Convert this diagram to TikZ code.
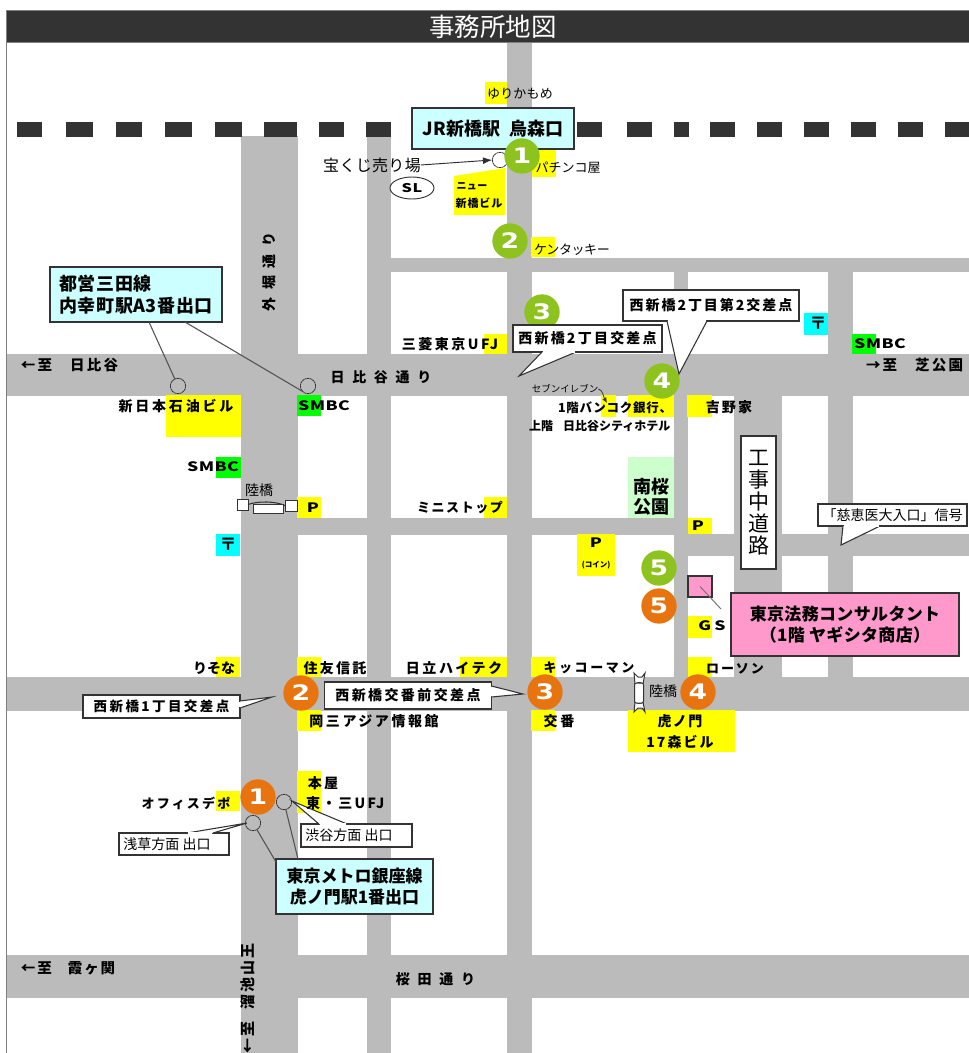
\documentclass[tikz,border=0pt]{standalone}
\usepackage{fontspec}
\usetikzlibrary{calc,arrows.meta,shapes.geometric}
\newfontfamily\jpf{Noto Sans CJK JP}
\newfontfamily\digf[FakeStretch=1.25]{DejaVu Sans}
\newcommand\rg[2]{\jpf\mdseries\fontsize{\fpeval{#1*0.75}}{\fpeval{#1*0.9}}\selectfont\addfontfeature{LetterSpace=#2}}
\newcommand\bd[2]{\jpf\bfseries\fontsize{\fpeval{#1*0.75}}{\fpeval{#1*0.9}}\selectfont\addfontfeature{LetterSpace=#2}}
\newcommand\bdw[2]{\jpf\bfseries\fontsize{\fpeval{#1*0.75}}{\fpeval{#1*0.9}}\selectfont\addfontfeature{LetterSpace=#2,FakeStretch=1.35}}
\newcommand\gapx[1]{\kern#1\dimexpr.75pt\relax}
\newcommand\bskip[1]{\setlength{\baselineskip}{#1pt}}
\definecolor{road}{HTML}{BBBBBB}
\definecolor{ink}{HTML}{333333}
\definecolor{ygreen}{HTML}{8DC21F}
\definecolor{orng}{HTML}{E8740F}
\definecolor{cyanbox}{HTML}{CCFFFF}
\definecolor{pinkbox}{HTML}{FF99CC}
\definecolor{parkg}{HTML}{CCFFCC}
\definecolor{markY}{HTML}{FFFF00}
\definecolor{markG}{HTML}{00FF00}
\definecolor{markC}{HTML}{00FFFF}
\tikzset{
 roadf/.style={fill=road},
 rail/.style={fill=ink},
 yb/.style={fill=markY},
 gb/.style={fill=markG},
 cb/.style={fill=markC},
 lab/.style={inner sep=0,outer sep=0,execute at begin node=\vphantom{国}},
 mlab/.style={inner sep=0,outer sep=0,align=center},
 sz/.style 2 args={minimum width=#1*0.75pt,minimum height=#2*0.75pt},
 bxs/.style={draw=ink,line width=0.9pt,fill=white,inner sep=0,outer sep=0},
 cyanb/.style={bxs,fill=cyanbox,align=center},
 pinkb/.style={bxs,fill=pinkbox,align=center},
 gcirc/.style={circle,fill=ygreen,inner sep=0,minimum size=26.5pt,text=white,font=\digf\bfseries\fontsize{16}{20}\selectfont},
 ocirc/.style={circle,fill=orng,inner sep=0,minimum size=26.5pt,text=white,font=\digf\bfseries\fontsize{16}{20}\selectfont},
 exitc/.style={circle,draw=ink,line width=0.6pt,dash pattern=on 1.6pt off 0.4pt,inner sep=0,minimum size=11.5pt,outer sep=0},
 ln/.style={draw=ink!85,line width=0.8pt},
 tailst/.style={draw=ink,line width=0.8pt,fill=white},
 bridge/.style={draw=ink,line width=0.75pt,fill=white,inner sep=0,outer sep=0},
}
\newcommand\tailp[3]{\draw[tailst] (#1) -- (#3) -- (#2);\draw[white,line width=1.4pt,shorten >=0.8pt,shorten <=0.8pt] (#1) -- (#2);}
\begin{document}
\begin{tikzpicture}[x=0.75pt,y=-0.75pt]
\useasboundingbox (0,0) rectangle (969,1053);
\fill[white] (0,0) rectangle (969,1053);
% roads
\fill[roadf] (241,136) rectangle (298,1053);
\fill[roadf] (367,136) rectangle (391,1053);
\fill[roadf] (507,42) rectangle (532,1053);
\fill[roadf] (674,258) rectangle (688,677);
\fill[roadf] (734,396) rectangle (782,677);
\fill[roadf] (828,258) rectangle (853,677);
\fill[roadf] (391,258) rectangle (969,272);
\fill[roadf] (7,354) rectangle (969,396);
\fill[roadf] (298,518) rectangle (674,535);
\fill[roadf] (674,534) rectangle (969,556);
\fill[roadf] (7,677) rectangle (969,711);
\fill[roadf] (7,955) rectangle (969,998);
% frame and header
\draw[gray,line width=0.8pt] (6.5,10.5) -- (6.5,1053);
\draw[gray,fill=ink,line width=0.6pt] (6.5,10.5) rectangle (970,42.5);
\node (title) [lab,text=white,font=\rg{25.5}{0}] at (493,27) {事務所地図};
% railway
\foreach \a/\b in {17/42,66/93,116/142,165/192,215/242,264/297,319/344,366/391,577/602,627/652,674/689,710/735,757/782,804/829,851/876,898/923,945/969}
  \fill[rail] (\a,122) rectangle (\b,137);
% yellow, green, cyan blocks
\fill[yb] (485,82) rectangle (507,104);
\fill[yb] (532,149) rectangle (556,177);
\fill[yb] (454,176) -- (505,168) -- (505,215) -- (454,215) -- cycle;
\fill[yb] (531,237) rectangle (555,257);
\fill[yb] (484,334) rectangle (507,354);
\fill[yb] (601,395) rectangle (616,417);
\fill[yb] (628,395) rectangle (674,417);
\fill[yb] (687,395) rectangle (712,417);
\fill[parkg] (628,457) rectangle (674,518);
\fill[cb] (804,313) rectangle (828,335);
\fill[gb] (852,334) rectangle (876,354);
\fill[yb] (166,395) rectangle (241,437);
\fill[gb] (297,395) rectangle (321,416);
\fill[gb] (216,457) rectangle (241,478);
\fill[yb] (297,497) rectangle (321,518);
\fill[cb] (216,534) rectangle (240,556);
\fill[yb] (484,497) rectangle (507,518);
\fill[yb] (688,518) rectangle (712,534);
\fill[yb] (577,534) rectangle (615,576);
\fill[yb] (688,616) rectangle (712,638);
\fill[yb] (688,657) rectangle (712,677);
\fill[yb] (628,710) rectangle (735,752);
\fill[yb] (531,657) rectangle (555,677);
\fill[yb] (531,710) rectangle (555,731);
\fill[yb] (297,710) rectangle (321,731);
\fill[yb] (297,657) rectangle (321,677);
\fill[yb] (460,657) rectangle (507,677);
\fill[yb] (216,657) rectangle (240,677);
\fill[yb] (297,771) rectangle (321,813);
\fill[yb] (216,791) rectangle (240,811);
% exit circles
\node (exJR) [exitc] at (500,160) {};
\node (exA) [exitc] at (178,386) {};
\node (exB) [exitc] at (308,386) {};
\node (exC) [exitc] at (253,823) {};
\node (exD) [exitc] at (284,802) {};
% green numbers
\node (g2) [gcirc] at (510,241) {2};
\node (g3) [gcirc] at (542,312) {3};
\node (g4) [gcirc] at (662,381) {4};
\node (g5) [gcirc] at (659,568) {5};
% orange numbers
\node (o1) [ocirc] at (258,797) {1};
\node (o2) [ocirc] at (301,693) {2};
\node (o3) [ocirc] at (545,692) {3};
\node (o4) [ocirc] at (698,692) {4};
\node (o5) [ocirc] at (659,606) {5};
% station boxes
\node (jr) [cyanb,sz={162}{41},font=\bd{18}{0}] at (493,128.5) {JR新橋駅\gapx{9}烏森口};
\node (g1) [gcirc] at (522,156) {1};
\node (toei) [cyanb,sz={172}{55},align=left,font=\bd{18}{3}] at (136,294.5) {都営三田線\\内幸町駅A3番出口};
\node (metro) [cyanb,sz={157}{55},font=\bd{17}{0}] at (354.5,886.5) {東京メトロ銀座線\\虎ノ門駅1番出口};
\draw[ln] ($(toei.south west)+(99,0)$) -- (exA);
\draw[ln] ($(toei.south west)+(135,0)$) -- (exB.south west);
\draw[ln] ($(metro.north west)+(0,3)$) -- (exC);
\draw[ln] ($(metro.north west)+(22,0)$) -- (exD);
% lottery
\node (lot) [lab,font=\rg{16}{2}] at (372,165) {宝くじ売り場};
\draw[ink!90!black,line width=0.7pt,-{Latex[length=7pt,width=5pt]}] (lot.east) -- (exJR.west);
% callouts
\node (cb3) [bxs,sz={149}{27},font=\bd{14}{16}] at (587.5,338.5) {西新橋2丁目交差点};
\coordinate (tp3) at (519,376);
\tailp{$(cb3.south west)+(29,0)$}{$(cb3.south west)+(63,0)$}{tp3}
\node (cb4) [bxs,sz={176}{31},font=\bd{14}{14}] at (711,305.5) {西新橋2丁目第2交差点};
\coordinate (tp4) at (679,374);
\tailp{$(cb4.south west)+(44,0)$}{$(cb4.south west)+(84,0)$}{tp4}
\node (cbj) [bxs,sz={149}{22},font=\rg{14}{0}] at (892.5,515) {「慈恵医大入口」信号};
\coordinate (tpj) at (841,545);
\tailp{$(cbj.south west)+(25,0)$}{$(cbj.south west)+(62,0)$}{tpj}
\node (cb1) [bxs,sz={157}{23},font=\bd{13.5}{18}] at (161.5,706.5) {西新橋1丁目交差点};
\coordinate (tp1) at (272,697);
\tailp{$(cb1.north east)+(0,6)$}{$(cb1.north east)+(0,13)$}{tp1}
\node (cbb) [bxs,sz={167}{27},font=\bd{14}{17}] at (408,695.5) {西新橋交番前交差点};
\coordinate (tpb) at (523,694);
\tailp{$(cbb.north east)+(0,4)$}{$(cbb.north east)+(0,15)$}{tpb}
\node (cba) [bxs,sz={110}{22},font=\rg{14}{0}] at (174,844) {浅草方面 出口\gapx{14}};
\coordinate (tpa) at (247,823);
\tailp{$(cba.north west)+(68,0)$}{$(cba.north west)+(94,0)$}{tpa}
\node (cbs) [bxs,sz={111}{23},font=\rg{14}{0}] at (356.5,835.5) {渋谷方面 出口\gapx{15}};
\coordinate (tps) at (292,801);
\tailp{$(cbs.north west)+(18,0)$}{$(cbs.north west)+(46,0)$}{tps}
% destination box
\node (koji) [bxs,sz={35}{133},align=center,font={\rg{21}{0}\bskip{16.5}}] at (758.5,502.5) {工\\事\\中\\道\\路};
\node (office) [pinkb,draw=ink,sz={24}{21}] at (700,586.5) {};
\coordinate (officeEnd) at (721,609);
\draw[ink!70,line width=0.7pt] (office.center) -- (officeEnd);
\node (dest) [pinkb,sz={228}{63},font=\bd{17}{2}] at (845,624.5) {東京法務コンサルタント\\（1階 ヤギシタ商店）};
% SL
\node (sl) [ellipse,draw=ink,line width=0.7pt,fill=white,inner sep=0,sz={44}{22},font=\bdw{12}{6}] at (412,188) {SL};
% labels
\node (l01) [lab,font=\rg{13}{1}] at (520,94) {ゆりかもめ};
\node (l02) [lab,font=\rg{13}{0}] at (568,168) {パチンコ屋};
\node (l03) [lab,font=\bd{10}{4}] at (472,186) {ニュー};
\node (l04) [lab,font=\bd{11}{8}] at (479,203) {新橋ビル};
\node (l05) [lab,font=\rg{13}{-3}] at (572,250) {ケンタッキー};
\node (l06) [lab,font=\bd{14}{18}] at (450,344) {三菱東京UFJ};
\node (l07) [lab,font=\bd{14}{55}] at (381,377) {日比谷通り};
\node (l08) [lab,rotate=90,font=\bd{14}{55}] at (269,272) {外堀通り};
\node (l09) [lab,font=\bd{14}{20}] at (176,406) {新日本石油ビル};
\node (l10) [lab,font=\bdw{13}{3}] at (324,406) {SMBC};
\node (l11) [lab,font=\bdw{13}{3}] at (213,467) {SMBC};
\node (l12) [lab,font=\bdw{13}{3}] at (880,344) {SMBC};
\node (l13) [lab,anchor=west,font=\bd{14.5}{15}] at (21,365) {←至\gapx{18}日比谷};
\node (l14) [lab,anchor=west,font=\bd{14.5}{15}] at (866,365) {→至\gapx{18}芝公園};
\node (l15) [lab,anchor=west,font=\bd{14.5}{13}] at (21,968) {←至\gapx{16}霞ヶ関};
\node (l16) [lab,font=\bd{14}{55}] at (435.5,979) {桜田通り};
\node (l17) [lab,anchor=west,rotate=90,font=\bd{15}{12}] at (248,1053) {←至\gapx{12}溜池山王};
\node (l18) [lab,font=\rg{9.5}{0}] at (565,389) {セブンイレブン};
\coordinate (s711) at (607,403);
\draw[ink,line width=0.6pt,-{Latex[length=4pt,width=3.5pt]}] (l18.east) .. controls (603,390) and (603,396) .. (s711);
\node (l19) [lab,anchor=west,font=\bd{12.5}{6}] at (558,408) {1階バンコク銀行、};
\node (l20) [lab,anchor=west,font=\bd{12}{0}] at (529,426) {上階\gapx{10}日比谷シティホテル};
\node (l21) [lab,font=\bd{14}{16}] at (729,407) {吉野家};
\node (l22) [mlab,font={\bd{18}{0}\bskip{15}}] at (651,497) {南桜\\公園};
\node (l23) [lab,font=\bd{13}{12}] at (460,508) {ミニストップ};
\node (l24) [lab,font=\bdw{13}{0}] at (313,508) {P};
\node (l25) [lab,font=\bdw{13}{0}] at (698,526) {P};
\node (l26) [lab,font=\bdw{13}{0}] at (596,543) {P};
\node (l27) [lab,font=\bd{7.5}{0}] at (596,565) {(コイン)};
\node (l28) [lab,font=\bd{17}{0}] at (228,544) {〒};
\node (l29) [lab,font=\bd{17}{0}] at (818,323) {〒};
\node (l30) [lab,font=\bdw{13}{25}] at (712,626) {GS};
\node (l31) [lab,font=\bd{13}{15}] at (735,669) {ローソン};
\node (l32) [lab,font=\bd{13}{20}] at (589,668) {キッコーマン};
\node (l33) [lab,font=\bd{14}{20}] at (559,721) {交番};
\node (l34) [lab,font=\bd{14}{18}] at (374,721) {岡三アジア情報館};
\node (l35) [lab,font=\bd{14}{16}] at (335,668) {住友信託};
\node (l36) [lab,font=\bd{14}{18}] at (454,668) {日立ハイテク};
\node (l37) [lab,font=\bd{14}{0}] at (214,668) {りそな};
\node (l38) [lab,font=\bd{14}{16}] at (323,783) {本屋};
\node (l39) [lab,anchor=west,font=\bd{14}{16}] at (306,803) {東・三UFJ};
\node (l40) [lab,font=\bd{13}{17}] at (186,803) {オフィスデポ};
\node (l41) [lab,font=\bd{14}{10}] at (680,721) {虎ノ門};
\node (l42) [lab,font=\bd{14}{15}] at (680,742) {17森ビル};
\node (l43) [lab,font=\rg{14}{0}] at (663,691) {陸橋};
\node (l44) [lab,font=\rg{14}{0}] at (259,490) {陸橋};
% left bridge
\node (blL) [bridge,sz={11}{11}] at (242.5,504.5) {};
\node (blR) [bridge,sz={12}{11}] at (291,505.5) {};
\draw[ink,line width=0.8pt] (blL.east) .. controls (258,501) and (275,501) .. (blR.west);
\node (blB) [bridge,sz={30}{9}] at (268,508.5) {};
% right bridge
\draw[bridge] (635,684) .. controls (639,682) and (640,682) .. (643,684) -- (645,673) -- (642,677) -- (638,677) -- (634,673) -- cycle;
\draw[bridge] (635,702) .. controls (639,704) and (640,704) .. (643,702) -- (645,712) -- (642,708) -- (638,708) -- (634,712) -- cycle;
\node (brC) [bridge,rounded corners=1.5pt,sz={9}{20}] at (639,693) {};
\end{tikzpicture}
\end{document}
